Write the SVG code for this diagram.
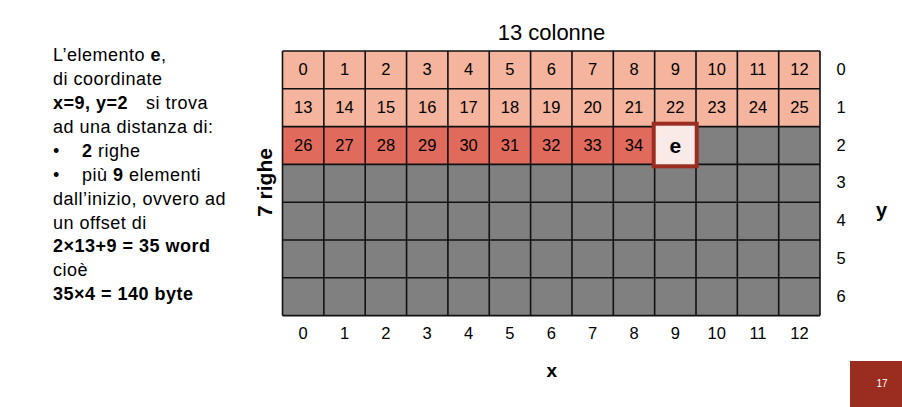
<svg xmlns="http://www.w3.org/2000/svg" width="902" height="407" viewBox="0 0 902 407">
<style>
text{font-family:"Liberation Sans",Arial,sans-serif;fill:#000}
.lt{font-size:18px;letter-spacing:0.5px}
.b{font-weight:bold}
.n{font-size:16.5px;text-anchor:middle}
.c0{fill:#F4B49D}
.c2{fill:#E06B5D}
.g{fill:#808080}
.lab{font-size:20px;font-weight:bold;text-anchor:middle}
</style>
<rect width="902" height="407" fill="#fff"/>
<g id="description">
<text class="lt" x="53" y="60.5">L’elemento <tspan class="b">e</tspan>,</text>
<text class="lt" x="53" y="84.5">di coordinate</text>
<text class="lt" x="53" y="108.5"><tspan class="b">x=9, y=2</tspan><tspan x="146">si trova</tspan></text>
<text class="lt" x="53" y="132.5">ad una distanza di:</text>
<text class="lt" x="53" y="156.5">•<tspan x="82"><tspan class="b">2</tspan> righe</tspan></text>
<text class="lt" x="53" y="180.5">•<tspan x="82">più <tspan class="b">9</tspan> elementi</tspan></text>
<text class="lt" x="53" y="204.5">dall’inizio, ovvero ad</text>
<text class="lt" x="53" y="228.5">un offset di</text>
<text class="lt b" x="53" y="252">2×13+9 = 35 word</text>
<text class="lt" x="53" y="276">cioè</text>
<text class="lt b" x="53" y="300">35×4 = 140 byte</text>
</g>
<g id="title"><text class="lab" style="font-weight:normal;font-size:22px" x="551.5" y="40">13 colonne</text></g>
<g id="rows-label"><text class="lab" transform="translate(272,182.5) rotate(-90)" x="0" y="0" style="font-size:21px">7 righe</text></g>
<g id="grid">
<rect class="c0" x="282.5" y="51" width="537.5" height="75.6"/>
<rect class="c2" x="282.5" y="126.6" width="372.2" height="37.8"/>
<rect class="g" x="696" y="126.6" width="124" height="37.8"/>
<rect class="g" x="282.5" y="164.4" width="537.5" height="151.2"/>
<path d="M282.5 51V315.6M323.85 51V315.6M365.2 51V315.6M406.55 51V315.6M447.9 51V315.6M489.25 51V315.6M530.6 51V315.6M571.95 51V315.6M613.3 51V315.6M654.65 51V315.6M696 51V315.6M737.35 51V315.6M778.7 51V315.6M820 51V315.6M282.5 51H820M282.5 88.8H820M282.5 126.6H820M282.5 164.4H820M282.5 202.2H820M282.5 240H820M282.5 277.8H820M282.5 315.6H820" stroke="#111" stroke-width="1.6" fill="none"/>
</g>
<g id="row0">
<text class="n" x="303.2" y="75">0</text><text class="n" x="344.5" y="75">1</text><text class="n" x="385.9" y="75">2</text><text class="n" x="427.2" y="75">3</text><text class="n" x="468.6" y="75">4</text><text class="n" x="509.9" y="75">5</text><text class="n" x="551.3" y="75">6</text><text class="n" x="592.6" y="75">7</text><text class="n" x="634" y="75">8</text><text class="n" x="675.3" y="75">9</text><text class="n" x="716.7" y="75">10</text><text class="n" x="758" y="75">11</text><text class="n" x="799.4" y="75">12</text>
</g>
<g id="row1">
<text class="n" x="303.2" y="112.8">13</text><text class="n" x="344.5" y="112.8">14</text><text class="n" x="385.9" y="112.8">15</text><text class="n" x="427.2" y="112.8">16</text><text class="n" x="468.6" y="112.8">17</text><text class="n" x="509.9" y="112.8">18</text><text class="n" x="551.3" y="112.8">19</text><text class="n" x="592.6" y="112.8">20</text><text class="n" x="634" y="112.8">21</text><text class="n" x="675.3" y="112.8">22</text><text class="n" x="716.7" y="112.8">23</text><text class="n" x="758" y="112.8">24</text><text class="n" x="799.4" y="112.8">25</text>
</g>
<g id="row2">
<text class="n" x="303.2" y="150.5">26</text><text class="n" x="344.5" y="150.5">27</text><text class="n" x="385.9" y="150.5">28</text><text class="n" x="427.2" y="150.5">29</text><text class="n" x="468.6" y="150.5">30</text><text class="n" x="509.9" y="150.5">31</text><text class="n" x="551.3" y="150.5">32</text><text class="n" x="592.6" y="150.5">33</text><text class="n" x="634" y="150.5">34</text>
</g>
<g id="element-e">
<rect x="653.7" y="123.7" width="43" height="42.6" fill="#F9E9E7" stroke="#9B2D20" stroke-width="4"/>
<text class="b" x="675.3" y="152.5" style="font-size:21px;text-anchor:middle">e</text>
</g>
<g id="y-axis">
<text class="n" x="841" y="75">0</text><text class="n" x="841" y="112.8">1</text><text class="n" x="841" y="150.5">2</text><text class="n" x="841" y="188.3">3</text><text class="n" x="841" y="226.1">4</text><text class="n" x="841" y="263.9">5</text><text class="n" x="841" y="301.7">6</text>
<text class="lab" x="881.5" y="216.5">y</text>
</g>
<g id="x-axis">
<text class="n" x="303.2" y="339">0</text><text class="n" x="344.5" y="339">1</text><text class="n" x="385.9" y="339">2</text><text class="n" x="427.2" y="339">3</text><text class="n" x="468.6" y="339">4</text><text class="n" x="509.9" y="339">5</text><text class="n" x="551.3" y="339">6</text><text class="n" x="592.6" y="339">7</text><text class="n" x="634" y="339">8</text><text class="n" x="675.3" y="339">9</text><text class="n" x="716.7" y="339">10</text><text class="n" x="758" y="339">11</text><text class="n" x="799.4" y="339">12</text>
<text class="lab" style="font-size:19px" x="551.7" y="377">x</text>
</g>
<g id="page-number">
<rect x="850" y="361" width="52" height="46" fill="#9B2D20"/>
<text x="882" y="387" style="font-size:10px;fill:#fff;text-anchor:middle">17</text>
</g>
</svg>
